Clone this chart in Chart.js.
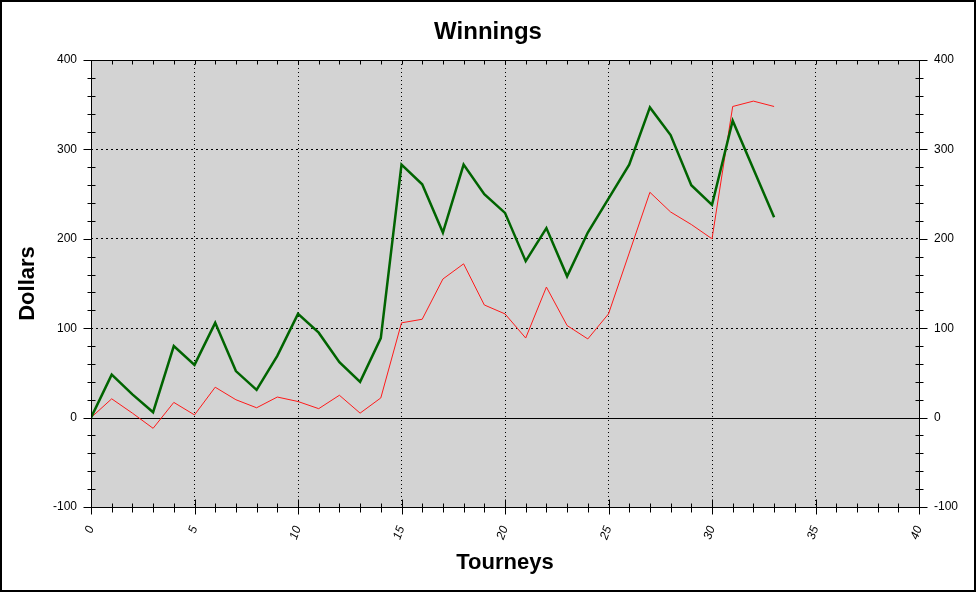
<!DOCTYPE html>
<html>
<head>
<meta charset="utf-8">
<script src="https://cdn.jsdelivr.net/npm/chart.js@4"></script>
<style>
    body { margin: 0; background: #fff; }
    #wrap { width: 976px; height: 592px; }
</style>
</head>
<body>
<div id="wrap"><canvas id="winChart" width="976" height="592"></canvas></div>
<script>
// Номера турниров
const tourneys = [0, 1, 2, 3, 4, 5, 6, 7, 8, 9, 10, 11, 12, 13, 14, 15, 16,
    17, 18, 19, 20, 21, 22, 23, 24, 25, 26, 27, 28, 29, 30, 31, 32, 33];
// Зелёная линия
const winningsGreen = [0, 48, 26, 6, 80, 59, 106, 52, 31, 69, 116, 95, 62, 40, 89,
    283, 261, 207, 283, 250, 229, 175, 212, 158, 207, 245, 283, 347, 316, 260, 238, 332, 278, 224];
// Красная линия
const winningsRed = [0, 21, 5, -12, 17, 3, 34, 20, 11, 23, 18, 10, 25, 5, 22,
    106, 110, 155, 172, 126, 116, 89, 146, 103, 88, 116, 184, 252, 230, 216, 200, 348, 354, 348];
const yTicks = [-100, 0, 100, 200, 300, 400];
const xTicks = [0, 5, 10, 15, 20, 25, 30, 35, 40];

const FONT = 'Arial, "Liberation Sans", sans-serif';

function toPoints(values) {
    return values.map((v, i) => ({x: tourneys[i], y: v}));
}

// Фон, рамка, нулевая линия и засечки
const framePlugin = {
    id: 'frame',
    beforeDraw(chart) {
        const {ctx, chartArea: a} = chart;
        ctx.save();
        ctx.fillStyle = '#fff';
        ctx.fillRect(0, 0, chart.width, chart.height);
        ctx.fillStyle = '#d3d3d3';
        ctx.fillRect(a.left, a.top, a.right - a.left, a.bottom - a.top);
        ctx.restore();
    },
    beforeDatasetsDraw(chart) {
        const {ctx, chartArea: a, scales} = chart;
        const y0 = Math.round(scales.y.getPixelForValue(0)) + 0.5;
        ctx.save();
        ctx.strokeStyle = '#000';
        ctx.lineWidth = 1;
        ctx.beginPath();
        ctx.moveTo(a.left, y0);
        ctx.lineTo(a.right, y0);
        ctx.stroke();
        ctx.restore();
    },
    afterDraw(chart) {
        const {ctx, chartArea: a, scales} = chart;
        const L = Math.round(a.left) + 0.5, R = Math.round(a.right) + 0.5;
        const T = Math.round(a.top) + 0.5, B = Math.round(a.bottom) + 0.5;
        ctx.save();
        ctx.strokeStyle = '#000';
        ctx.lineWidth = 1;
        ctx.strokeRect(L, T, R - L, B - T);
        ctx.beginPath();
        // засечки по Y
        for (let v = -100; v <= 400; v += 20) {
            const y = Math.round(scales.y.getPixelForValue(v)) + 0.5;
            const major = v % 100 === 0;
            const o = major ? 8 : 4, i = major ? 0 : 4;
            ctx.moveTo(L - o, y); ctx.lineTo(L + i, y);
            ctx.moveTo(R - i, y); ctx.lineTo(R + o, y);
        }
        // засечки по X
        for (let v = 0; v <= 40; v += 1) {
            const x = Math.round(scales.x.getPixelForValue(v)) + 0.5;
            const major = v % 5 === 0;
            ctx.moveTo(x, B + (major ? 7 : 5)); ctx.lineTo(x, B - (major ? 8 : 4));
            ctx.moveTo(x, T); ctx.lineTo(x, T + 4);
        }
        ctx.stroke();
        ctx.lineWidth = 2;
        ctx.strokeRect(1, 1, chart.width - 2, chart.height - 2);
        ctx.restore();
    }
};

const gridColor = (edges) => (c) => (c.tick && edges.includes(c.tick.value)) ? 'rgba(0,0,0,0)' : '#000';

new Chart(document.getElementById('winChart'), {
    type: 'line',
    data: {
        datasets: [
            {
                label: 'Green',
                data: toPoints(winningsGreen),
                borderColor: '#006400',
                borderWidth: 2.5,
                pointRadius: 0,
                tension: 0,
                fill: false,
            },
            {
                label: 'Red',
                data: toPoints(winningsRed),
                borderColor: '#ff1a1a',
                borderWidth: 1,
                pointRadius: 0,
                tension: 0,
                fill: false,
            }
        ]
    },
    options: {
        responsive: false,
        animation: false,
        events: [],
        layout: {padding: 0},
        plugins: {
            legend: {display: false},
            tooltip: {enabled: false},
            title: {
                display: true,
                text: 'Winnings',
                color: '#000',
                font: {family: FONT, size: 24, weight: 'bold', lineHeight: 1.2},
                padding: {top: 18, bottom: 13.2}
            }
        },
        scales: {
            x: {
                type: 'linear',
                position: 'bottom',
                min: 0,
                max: 40,
                afterBuildTicks: (s) => { s.ticks = xTicks.map(v => ({value: v})); },
                afterFit: (s) => { s.height = 85; },
                ticks: {
                    autoSkip: false,
                    minRotation: 70,
                    maxRotation: 70,
                    padding: 17,
                    color: '#000',
                    font: {family: FONT, size: 12, style: 'italic'}
                },
                grid: {color: gridColor([0, 40]), lineWidth: 1, drawTicks: false},
                border: {display: false, dash: [1, 3]},
                title: {
                    display: true,
                    text: 'Tourneys',
                    color: '#000',
                    font: {family: FONT, size: 22, weight: 'bold', lineHeight: 1.2},
                    padding: {top: 0, bottom: 15.8}
                }
            },
            y: {
                position: 'left',
                min: -100,
                max: 400,
                afterBuildTicks: (s) => { s.ticks = yTicks.map(v => ({value: v})); },
                afterFit: (s) => { s.width = 91; },
                ticks: {padding: 14, color: '#000', font: {family: FONT, size: 12}},
                grid: {color: gridColor([-100, 0, 400]), lineWidth: 1, drawTicks: false},
                border: {display: false, dash: [2, 3]},
                title: {
                    display: true,
                    text: 'Dollars',
                    color: '#000',
                    font: {family: FONT, size: 22, weight: 'bold', lineHeight: 1.2},
                    padding: {top: 14.8, bottom: 0}
                }
            },
            y2: {
                position: 'right',
                min: -100,
                max: 400,
                afterBuildTicks: (s) => { s.ticks = yTicks.map(v => ({value: v})); },
                afterFit: (s) => { s.width = 57; },
                ticks: {padding: 15, color: '#000', font: {family: FONT, size: 12}},
                grid: {drawOnChartArea: false, drawTicks: false},
                border: {display: false}
            }
        }
    },
    plugins: [framePlugin]
});
</script>
</body>
</html>
